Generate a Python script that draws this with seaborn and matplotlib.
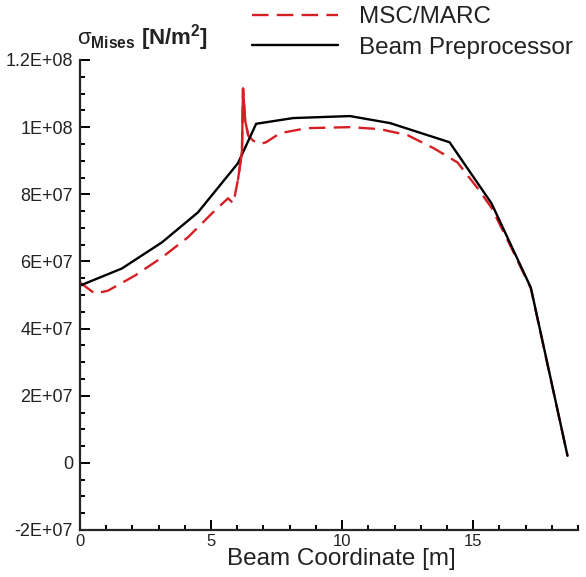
import numpy as np
import pandas as pd
import matplotlib
matplotlib.use("Agg")
import matplotlib.pyplot as plt
import seaborn as sns
from matplotlib.ticker import MultipleLocator, FixedLocator, FixedFormatter

# ---- data ----
x_marc = [0.0, 0.57, 1.07, 2.1, 3.13, 4.12, 5.15, 5.65, 5.85, 6.03, 6.12, 6.18, 6.22,
          6.3, 6.42, 6.6, 6.87, 7.1, 7.63, 8.66, 10.3, 11.45, 12.5, 13.5, 14.4,
          15.15, 15.7, 16.4, 17.2, 18.6]
y_marc = [5.37e7, 5.04e7, 5.13e7, 5.58e7, 6.12e7, 6.72e7, 7.52e7, 7.88e7, 7.73e7,
          8.45e7, 8.95e7, 9.3e7, 1.115e8, 1.02e8, 9.75e7, 9.6e7, 9.5e7, 9.55e7,
          9.82e7, 9.97e7, 1.0e8, 9.94e7, 9.76e7, 9.37e7, 8.95e7, 8.2e7, 7.6e7,
          6.5e7, 5.2e7, 2.1e6]

x_beam = [0.0, 1.6, 3.13, 4.5, 6.03, 6.72, 8.13, 10.3, 11.83, 14.1, 15.7, 17.2, 18.6]
y_beam = [5.28e7, 5.79e7, 6.57e7, 7.46e7, 8.93e7, 1.01e8, 1.027e8, 1.033e8,
          1.012e8, 9.55e7, 7.73e7, 5.22e7, 2.1e6]

series = ["MSC/MARC", "Beam Preprocessor"]
y_ticks = [-2e7, 0, 2e7, 4e7, 6e7, 8e7, 1e8, 1.2e8]
y_tick_labels = ["-2E+07", "0", "2E+07", "4E+07", "6E+07", "8E+07", "1E+08", "1.2E+08"]
x_ticks = [0, 5, 10, 15]

df = pd.concat([
    pd.DataFrame({"x": x_marc, "y": y_marc, "source": series[0]}),
    pd.DataFrame({"x": x_beam, "y": y_beam, "source": series[1]}),
], ignore_index=True)

sns.set_style("ticks")
plt.rcParams["font.family"] = ["Liberation Sans", "DejaVu Sans"]
plt.rcParams["mathtext.fontset"] = "custom"
plt.rcParams["mathtext.rm"] = "Liberation Sans"
plt.rcParams["mathtext.bf"] = "Liberation Sans:bold"
plt.rcParams["mathtext.it"] = "Liberation Sans:italic"

red = "#d42024"
txt = "#222222"

fig = plt.figure(figsize=(5.86, 5.77), dpi=100)
ax = fig.add_axes([80 / 586, 1 - 530 / 577, 498 / 586, 470 / 577])

sns.lineplot(data=df, x="x", y="y", hue="source", style="source",
             hue_order=series, style_order=series,
             palette={series[0]: red, series[1]: "black"},
             dashes={series[0]: (7, 3.5), series[1]: ""},
             sort=False, estimator=None, linewidth=1.7, ax=ax)

# the narrow spike reads as a solid stroke in the reference
spike = df[(df["source"] == series[0]) & (df["x"] >= 6.0) & (df["x"] <= 6.45)]
sns.lineplot(data=spike, x="x", y="y", color=red, sort=False, estimator=None,
             linewidth=1.7, legend=False, ax=ax)

ax.set_xlim(0, 19)
ax.set_ylim(-2e7, 1.2e8)
ax.xaxis.set_major_locator(FixedLocator(x_ticks))
ax.xaxis.set_minor_locator(MultipleLocator(1))
ax.yaxis.set_major_locator(FixedLocator(y_ticks))
ax.yaxis.set_major_formatter(FixedFormatter(y_tick_labels))
ax.yaxis.set_minor_locator(MultipleLocator(5e6))

ax.tick_params(which="both", direction="in", width=1.4, colors="black",
               labelcolor=txt)
ax.tick_params(axis="y", labelsize=13, pad=5)
ax.tick_params(axis="x", labelsize=12, pad=3)
ax.tick_params(which="major", length=7)
ax.tick_params(which="minor", length=3.5)
sns.despine(ax=ax)
for s in ["left", "bottom"]:
    ax.spines[s].set_linewidth(1.6)

ax.set_xlabel("Beam Coordinate [m]", fontsize=17.5, color=txt, labelpad=0)
ax.xaxis.set_label_coords(0.524, -0.038, transform=ax.transAxes)
ax.xaxis.label.set_verticalalignment("top")
ax.set_ylabel("")

fig.text(77 / 586, 1 - 38 / 577, r"$\mathrm{\sigma}_{\mathbf{Mises}}$ $\mathbf{[N/m^2]}$",
         fontsize=16, color=txt, ha="left", va="center")

leg = ax.legend(loc="upper left", bbox_to_anchor=(250 / 586, 1 - 4 / 577),
                bbox_transform=fig.transFigure, frameon=False, fontsize=17.5,
                handlelength=3.5, handletextpad=0.9, labelspacing=0.35,
                borderpad=0.1, borderaxespad=0)
for t in leg.get_texts():
    t.set_color(txt)
for h in leg.get_lines():
    h.set_linewidth(1.7)

fig.savefig("out.png", dpi=100)
